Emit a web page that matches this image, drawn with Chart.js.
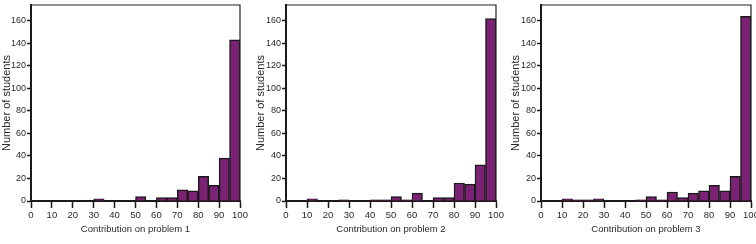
<!DOCTYPE html>
<html>
<head>
<meta charset="utf-8">
<script src="https://cdn.jsdelivr.net/npm/chart.js@4.4.1/dist/chart.umd.min.js"></script>
<style>
  html, body { margin: 0; padding: 0; background: #fff; }
  #wrap { position: relative; width: 756px; height: 244px; overflow: hidden; }
  canvas { position: absolute; top: 0; }
</style>
</head>
<body>
<div id="wrap">
  <canvas id="c1" width="252" height="244" style="left:0px"></canvas>
  <canvas id="c2" width="252" height="244" style="left:252px"></canvas>
  <canvas id="c3" width="252" height="244" style="left:504px"></canvas>
</div>
<script>
// histogram bins (left edges, width 5)
const binStarts = [0, 5, 10, 15, 20, 25, 30, 35, 40, 45, 50, 55, 60, 65, 70, 75, 80, 85, 90, 95];
const binWidth = 5;

const problem1 = [0, 0, 0, 0, 0, 0, 2, 0, 0, 0, 4, 0, 3, 3, 10, 9, 22, 14, 38, 143];
const problem2 = [0, 0, 2, 0, 0, 1, 0, 0, 1, 1, 4, 1, 7, 0, 3, 3, 16, 15, 32, 162];
const problem3 = [0, 0, 2, 1, 1, 2, 0, 0, 0, 1, 4, 1, 8, 3, 7, 9, 14, 9, 22, 164];

const xTicks = [0, 10, 20, 30, 40, 50, 60, 70, 80, 90, 100];
const yTicks = [0, 20, 40, 60, 80, 100, 120, 140, 160];

const FONT = "'Liberation Sans', Arial, sans-serif";
const BAR_FILL = '#7b2275';
const INK = '#1a1a1a';

// top + right frame lines
const framePlugin = {
    id: 'frame',
    afterDatasetsDraw(chart) {
        const a = chart.chartArea;
        const ctx = chart.ctx;
        ctx.save();
        ctx.strokeStyle = '#222';
        ctx.lineWidth = 1.2;
        ctx.beginPath();
        ctx.moveTo(a.left, a.top);
        ctx.lineTo(a.right, a.top);
        ctx.lineTo(a.right, a.bottom);
        ctx.stroke();
        ctx.restore();
    }
};

function makeHist(id, values, title, pad, yWidth) {
    const ctx = document.getElementById(id).getContext('2d');
    new Chart(ctx, {
        type: 'bar',
        data: {
            datasets: [{
                data: values.map((v, i) => ({ x: binStarts[i] + binWidth / 2, y: v })),
                backgroundColor: BAR_FILL,
                borderColor: INK,
                borderWidth: 1.5,
                barPercentage: 1,
                categoryPercentage: 1
            }]
        },
        options: {
            responsive: false,
            animation: false,
            layout: { padding: pad },
            plugins: { legend: { display: false }, tooltip: { enabled: false } },
            scales: {
                x: {
                    type: 'linear',
                    min: 0,
                    max: 100,
                    offset: false,
                    grid: { offset: false, drawOnChartArea: false, drawTicks: true, tickLength: 7, tickWidth: 1.5, tickColor: INK },
                    border: { display: true, color: INK, width: 2 },
                    afterBuildTicks: s => { s.ticks = xTicks.map(v => ({ value: v })); },
                    afterFit: s => { s.height = 38; s.paddingLeft = 0; s.paddingRight = 0; },
                    ticks: { font: { family: FONT, size: 9.5 }, color: '#2a2a2a', padding: 2, maxRotation: 0, autoSkip: false },
                    title: { display: true, text: title, font: { family: FONT, size: 9.5 }, color: '#2a2a2a', padding: { top: 3 } }
                },
                y: {
                    min: 0,
                    max: 174,
                    grid: { drawOnChartArea: false, drawTicks: true, tickLength: 4, tickWidth: 1.5, tickColor: INK },
                    border: { display: true, color: INK, width: 2 },
                    afterBuildTicks: s => { s.ticks = yTicks.map(v => ({ value: v })); },
                    afterFit: s => { s.width = yWidth; s.paddingTop = 0; s.paddingBottom = 0; },
                    ticks: { font: { family: FONT, size: 9 }, color: '#2a2a2a', padding: 1, autoSkip: false },
                    title: { display: true, text: 'Number of students', font: { family: FONT, size: 11 }, color: '#2a2a2a', padding: 0 }
                }
            }
        },
        plugins: [framePlugin]
    });
}

makeHist('c1', problem1, 'Contribution on problem 1', { left: 0, right: 12, top: 5, bottom: 5 }, 31);
makeHist('c2', problem2, 'Contribution on problem 2', { left: 2, right: 8, top: 5, bottom: 5 }, 32);
makeHist('c3', problem3, 'Contribution on problem 3', { left: 5, right: 5, top: 5, bottom: 5 }, 32);
</script>
</body>
</html>
